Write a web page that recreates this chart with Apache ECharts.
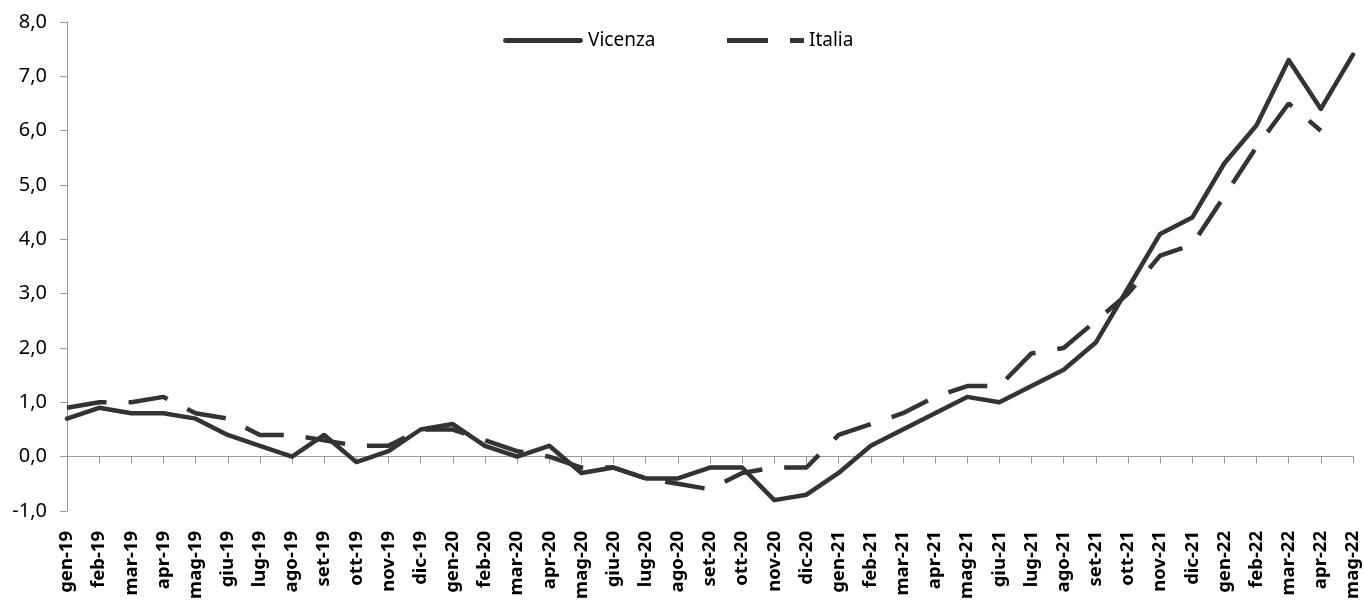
<!DOCTYPE html>
<html>
<head>
<meta charset="utf-8">
<script src="https://cdn.jsdelivr.net/npm/echarts@6/dist/echarts.min.js"></script>
<style>
html,body{margin:0;padding:0;background:#fff;}
#c{width:1364px;height:601px;}
</style>
</head>
<body>
<div id="c"></div>
<script>
const categories = [
  'gen-19','feb-19','mar-19','apr-19','mag-19','giu-19','lug-19','ago-19','set-19','ott-19','nov-19','dic-19',
  'gen-20','feb-20','mar-20','apr-20','mag-20','giu-20','lug-20','ago-20','set-20','ott-20','nov-20','dic-20',
  'gen-21','feb-21','mar-21','apr-21','mag-21','giu-21','lug-21','ago-21','set-21','ott-21','nov-21','dic-21',
  'gen-22','feb-22','mar-22','apr-22','mag-22'
];
const vicenza = [
  0.7,0.9,0.8,0.8,0.7,0.4,0.2,0.0,0.4,-0.1,0.1,0.5,
  0.6,0.2,0.0,0.2,-0.3,-0.2,-0.4,-0.4,-0.2,-0.2,-0.8,-0.7,
  -0.3,0.2,0.5,0.8,1.1,1.0,1.3,1.6,2.1,3.1,4.1,4.4,
  5.4,6.1,7.3,6.4,7.4
];
const italia = [
  0.9,1.0,1.0,1.1,0.8,0.7,0.4,0.4,0.3,0.2,0.2,0.5,
  0.5,0.3,0.1,0.0,-0.2,-0.2,-0.4,-0.5,-0.6,-0.3,-0.2,-0.2,
  0.4,0.6,0.8,1.1,1.3,1.3,1.9,2.0,2.5,3.0,3.7,3.9,
  4.8,5.7,6.5,6.0,null
];
const seriesNames = ['Vicenza','Italia'];

const chart = echarts.init(document.getElementById('c'), null, {renderer:'canvas'});
const axisGray = '#9a9a9a';
const lineColor = '#333333';
const legendText = {fontFamily:'Noto Sans',fontSize:19,color:'#000', padding:[4,0,0,0]};
chart.setOption({
  animation:false,
  backgroundColor:'#ffffff',
  grid:{left:67,right:11,top:22,bottom:90,containLabel:false,outerBoundsMode:'none'},
  legend:[
    {data:[{name:seriesNames[0], icon:'path://M2,0H78A2,2 0 0 1 78,5H2A2,2 0 0 1 2,0Z'}],
     left:498, top:26, itemWidth:80, itemHeight:5, itemGap:6, textStyle:legendText,
     itemStyle:{color:lineColor, borderWidth:0}},
    {data:[{name:seriesNames[1], icon:'path://M0,0H41V5H0Z M63,0H77V5H63Z'}],
     left:722, top:26, itemWidth:77, itemHeight:5, itemGap:8, textStyle:legendText,
     itemStyle:{color:lineColor, borderWidth:0}}
  ],
  xAxis:[
    {type:'category', data:categories, boundaryGap:false, position:'bottom',
     axisLine:{show:false,onZero:false}, axisTick:{show:false},
     axisLabel:{interval:0, rotate:90, margin:20, fontFamily:'Noto Sans', fontWeight:'bold', fontSize:18.5, color:'#000'},
     splitLine:{show:false}},
    {type:'category', data:categories, boundaryGap:false, position:'bottom',
     axisLine:{show:true,onZero:true,lineStyle:{color:axisGray,width:1}},
     axisTick:{show:true,interval:0,length:7,lineStyle:{color:axisGray}},
     axisLabel:{show:false}, splitLine:{show:false}}
  ],
  yAxis:{type:'value', min:-1, max:8, interval:1,
    axisLine:{show:true,lineStyle:{color:axisGray,width:1}},
    axisTick:{show:true,length:7,lineStyle:{color:axisGray}},
    splitLine:{show:false},
    axisLabel:{margin:20, fontFamily:'Noto Sans', fontSize:20, color:'#000', padding:[9,0,0,0],
      formatter:v=>v.toFixed(1).replace('.',',')}
  },
  series:[
    {name:seriesNames[0], type:'line', data:vicenza, xAxisIndex:0, showSymbol:false, symbol:'none',
     lineStyle:{color:lineColor,width:4.5,join:'round',cap:'round'}, itemStyle:{color:lineColor}},
    {name:seriesNames[1], type:'line', data:italia, xAxisIndex:0, showSymbol:false, symbol:'none',
     lineStyle:{color:lineColor,width:4.5,type:[40,22],cap:'butt',join:'bevel'}, itemStyle:{color:lineColor}}
  ]
});
</script>
</body>
</html>
